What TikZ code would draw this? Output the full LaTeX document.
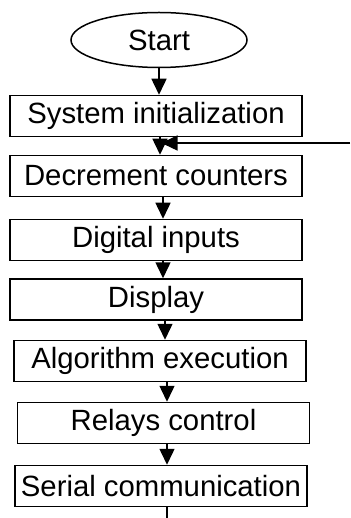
\documentclass[tikz,border=0pt]{standalone}
\usepackage{fontspec}
\setmainfont{Liberation Sans}
\usetikzlibrary{arrows.meta,shapes.geometric}
\begin{document}
\begin{tikzpicture}[x=1pt,y=-1pt,>={Triangle[width=15pt,length=16pt]},line width=1.5pt,
        font=\fontsize{29.3}{34}\selectfont]
                \tikzset{box/.style={draw,inner sep=0pt,minimum width=292pt,minimum height=41pt}}
                \fill[white] (0,0) rectangle (350,518);
                \useasboundingbox (0,0) rectangle (350,518);
                %===========================================
                \node[draw,ellipse,inner sep=0pt,minimum width=176pt,minimum height=55pt] (start) at (159,40) {Start};
                \node[box] (init) at (156,116) {System initialization};
                \node[box] (decr) at (156,176) {Decrement counters};
                \node[box] (inputs) at (156,240) {Digital inputs};
                \node[box] (disp) at (156,299.5) {Display};
                \node[box] (algo) at (160,361) {Algorithm execution};
                \node[box] (relays) at (163.5,423) {Relays control};
                \node[box] (serial) at (161,486) {Serial communication};
                \coordinate (ret) at (350,143);
                \coordinate (out) at (167,518);
                %===========================================
                \draw[->] (start.south) -- (start.south |- init.north);
                \draw[->] ([xshift=4pt]init.south) -- ([xshift=4pt]init.south |- decr.north);
                \draw[->] (ret) -- ([xshift=5.5pt]init.south |- ret);
                \draw[->] ([xshift=7pt]decr.south) -- ([xshift=7pt]decr.south |- inputs.north);
                \draw[->] ([xshift=7pt]inputs.south) -- ([xshift=7pt]inputs.south |- disp.north);
                \draw[->] ([xshift=9pt]disp.south) -- ([xshift=9pt]disp.south |- algo.north);
                \draw[->] ([xshift=7pt]algo.south) -- ([xshift=7pt]algo.south |- relays.north);
                \draw[->] ([xshift=3.5pt]relays.south) -- ([xshift=3.5pt]relays.south |- serial.north);
                \draw (serial.south -| out) -- (out);
        \end{tikzpicture}
\end{document}
